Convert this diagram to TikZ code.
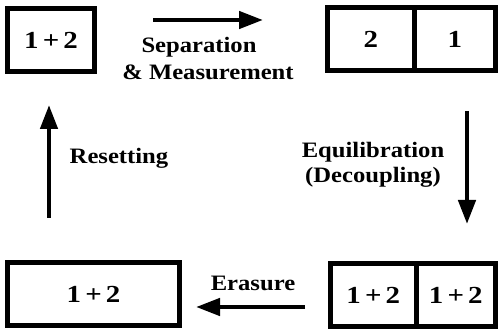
\documentclass[tikz,border=0pt]{standalone}
\usepackage{fontspec}
\setmainfont{Liberation Serif}[FakeStretch=1.18]
\newfontfamily\lblfont{Liberation Serif}[FakeStretch=1.12]
\usetikzlibrary{arrows.meta}
\begin{document}
\begin{tikzpicture}[x=1pt,y=-1pt,
  cell/.style={draw=black,line width=5pt,inner sep=0pt,minimum height=63pt,
    font=\fontsize{24.5}{28}\selectfont\bfseries},
  lbl/.style={font=\lblfont\fontsize{22}{25}\selectfont\bfseries,inner sep=0pt},
  bigarrow/.style={line width=4.5pt,-{Triangle[length=24pt,width=17pt]}}]
\useasboundingbox (0,0) rectangle (499,331);
% top-left
\node[cell,minimum width=87pt] (tl) at (51,40.5) {1\,+\,2};
% top-right
\node[cell,minimum width=86.5pt] (tr1) at (370.75,39) {2};
\node[cell,minimum width=81.5pt] (tr2) at (454.75,39) {1};
% bottom-left
\node[cell,minimum width=172pt] (bl) at (93.5,294) {1\,+\,2};
% bottom-right
\node[cell,minimum width=85.5pt] (br1) at (373.25,295.5) {1\,+\,2};
\node[cell,minimum width=79.5pt] (br2) at (455.75,295.5) {1\,+\,2};
% arrow ends
\coordinate (a1s) at (153,20); \coordinate (a1e) at (263,20);
\coordinate (a2s) at (467,111); \coordinate (a2e) at (467,224);
\coordinate (a3s) at (305,307); \coordinate (a3e) at (196,307);
\coordinate (a4s) at (49,218); \coordinate (a4e) at (49,105);
\draw[bigarrow] (a1s) -- (a1e);
\draw[bigarrow] (a2s) -- (a2e);
\draw[bigarrow] (a3s) -- (a3e);
\draw[bigarrow] (a4s) -- (a4e);
% labels
\node[lbl] (sep) at (199,47) {Separation};
\node[lbl] (meas) at (208,72) {\&\ Measurement};
\node[lbl,align=center] (equ) at (373,164.5) {Equilibration\\(Decoupling)};
\node[lbl] (eras) at (253,283) {Erasure};
\node[lbl] (res) at (119,158) {Resetting};
\end{tikzpicture}
\end{document}
